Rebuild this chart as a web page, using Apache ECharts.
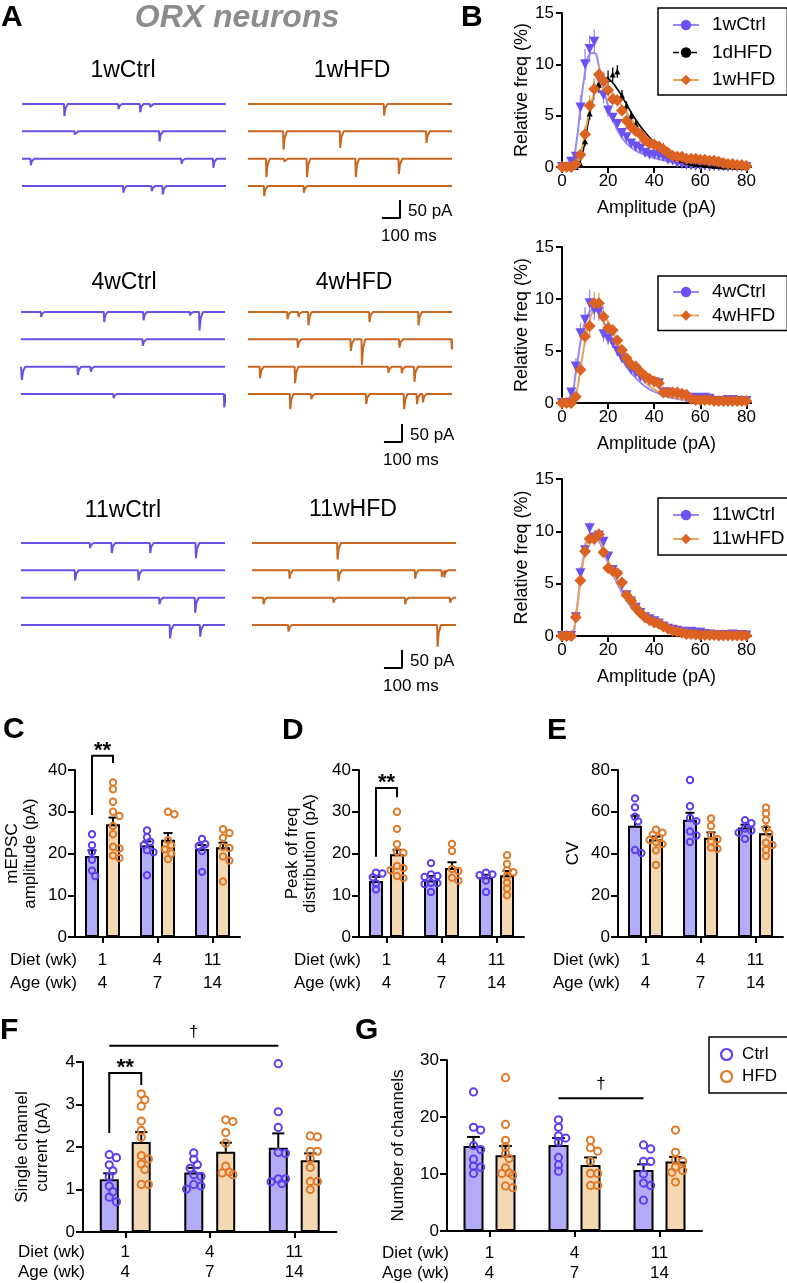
<!DOCTYPE html>
<html><head><meta charset="utf-8">
<script src="https://cdn.jsdelivr.net/npm/echarts@6/dist/echarts.min.js"></script>
<style>html,body{margin:0;padding:0;background:#fff}#c{width:787px;height:1283px}</style>
</head><body><div id="c"></div>
<script>
// ================= DATA =================
// Panel A: mEPSC events per sweep, [time (ms), amplitude (pA)]
const ev1wCtrl = [[[234,34],[534,14],[654,23],[709,8]], [[292,8],[761,28]], [[48,18],[883,14],[1059,25]], [[561,18],[718,14],[779,23]]];
const ev1wHFD  = [[[753,32]], [[196,51],[510,46],[988,32]], [[101,51],[200,8],[326,51],[596,51],[835,42]], [[89,28],[309,18]]];
const ev4wCtrl = [[[111,14],[460,28],[678,23],[936,9],[988,51]], [[674,18]], [[4,37],[314,23],[386,14]], [[512,11],[1125,37]]];
const ev4wHFD  = [[[218,20],[279,14],[334,37],[672,28],[944,37]], [[275,23],[569,32],[630,71],[838,23],[1128,28]], [[66,32],[260,46],[777,17],[851,18],[921,42]], [[233,42],[350,14],[654,28],[864,42],[935,28],[968,23]]];
const ev11wCtrl= [[[382,14],[502,28],[715,28],[968,42]], [[299,28],[650,28]], [[766,18],[964,42]], [[825,37],[992,32]]];
const ev11wHFD = [[[473,46]], [[207,23],[478,30],[903,23],[1051,18],[1064,20]], [[63,18],[451,14],[848,18],[1097,14]], [[201,18],[1027,60]]];
const SCALE_PA = 50, SCALE_MS = 100, TRACE_MS = 1130;

// Panel B: amplitude histograms (bins in pA, relative frequency %)
const ampBins = [0,2,4,6,8,10,12,14,16,18,20,22,24,26,28,30,32,34,36,38,40,42,44,46,48,50,52,54,56,58,60,62,64,66,68,70,72,74,76,78,80];
const ampTicks = [0,20,40,60,80];
const ctrl1w = [0,0,0.5,1.0,5.8,10.0,11.5,12.2,8.6,7.0,5.5,4.8,4.2,3.3,2.9,2.3,2.0,1.8,1.4,1.2,1.2,1.1,1.0,0.7,0.6,0.4,0.3,0.2,0.15,0.1,0.1,0.1,0.05,0.1,0.05,0.05,0,0.05,0,0,0];
const dHFD1  = [0,0,0,0,0.3,2.5,5.2,7.6,8.0,8.3,8.6,9.0,9.3,7.0,6.0,5.0,4.2,3.2,2.8,2.5,2.3,2.1,2.0,1.4,1.2,0.9,0.7,0.5,0.4,0.3,0.3,0.2,0.2,0.1,0.1,0.05,0.05,0.05,0,0,0];
const hfd1w  = [0,0,0,0.3,1.2,3.2,6.0,7.6,9.0,8.4,7.5,6.6,6.5,5.5,4.5,3.9,3.5,3.2,2.6,2.3,2.2,2.0,1.7,1.4,1.1,1.0,1.0,0.8,0.8,0.8,0.7,0.7,0.6,0.6,0.5,0.4,0.3,0.3,0.2,0.2,0.1];
const ctrl4w = [0,0,1.0,3.5,6.7,8.0,9.6,9.0,8.8,6.6,6.2,5.8,5.0,4.3,3.8,3.2,2.9,2.5,2.3,2.1,2.0,1.9,1.0,1.0,0.9,0.8,0.7,0.5,0.4,0.5,0.4,0.5,0.4,0.2,0.2,0.2,0.3,0.3,0.2,0.2,0.2];
const hfd4w  = [0,0,0,0.6,3.2,6.4,7.4,9.6,9.6,8.3,7.2,7.0,6.0,5.1,4.3,3.7,3.5,3.0,2.6,2.3,2.1,1.9,1.0,1.0,1.0,1.0,0.9,0.8,0.4,0.3,0.3,0.3,0.3,0.2,0.2,0.2,0.2,0.2,0.2,0.2,0.2];
const ctrl11w= [0,0,0,1.8,6.0,8.2,10.3,9.4,9.6,9.0,7.6,6.3,5.8,4.8,3.9,3.3,2.7,2.2,1.8,1.6,1.4,1.2,0.9,0.7,0.6,0.5,0.4,0.35,0.4,0.3,0.3,0.2,0.15,0.1,0.1,0.1,0.1,0.15,0.1,0.1,0.05];
const hfd11w = [0,0,0,1.8,5.3,8.1,9.3,9.3,9.7,8.0,6.5,6.2,6.0,5.1,3.9,3.4,2.7,2.2,1.8,1.5,1.3,1.2,0.9,0.7,0.5,0.4,0.3,0.2,0.2,0.15,0.1,0.1,0.1,0.1,0.05,0.05,0.05,0.05,0.05,0.05,0.05];
const err1wCtrl = [0,0,0.3,0.5,1.2,1.5,1.3,1.2,1.0,0.8,0.6,0.5,0.5,0.4,0.4,0.3,0.3,0.3,0.2,0.2,0.2,0.2,0.2,0.15,0.15,0.1,0.1,0.1,0.1,0.1,0.1,0.1,0.05,0.05,0.05,0.05,0,0.05,0,0,0];
const err1dHFD  = [0,0,0,0,0.2,0.5,0.6,0.7,0.8,0.9,0.8,0.7,0.6,0.5,0.4,0.4,0.3,0.3,0.3,0.2,0.3,0.3,0.3,0.2,0.2,0.2,0.1,0.1,0.1,0.1,0.1,0.1,0.1,0.05,0.05,0.05,0.05,0.05,0,0,0];
const err1wHFD  = [0,0,0,0.2,0.4,0.8,1.0,1.1,1.0,0.9,0.7,0.6,0.6,0.5,0.5,0.4,0.4,0.3,0.3,0.3,0.3,0.2,0.2,0.2,0.2,0.2,0.2,0.15,0.15,0.15,0.15,0.1,0.1,0.1,0.1,0.1,0.1,0.1,0.05,0.05,0.05];
const err4wCtrl = [0,0,0.4,0.8,1.0,1.2,1.3,1.0,0.9,0.7,0.6,0.5,0.5,0.4,0.4,0.4,0.3,0.3,0.3,0.3,0.3,0.3,0.2,0.2,0.2,0.2,0.15,0.15,0.1,0.1,0.1,0.1,0.1,0.1,0.1,0.1,0.1,0.1,0.1,0.1,0.1];
const err4wHFD  = [0,0,0,0.3,0.6,0.9,1.0,1.1,1.0,0.8,0.7,0.6,0.5,0.5,0.4,0.4,0.4,0.3,0.3,0.3,0.3,0.3,0.2,0.2,0.2,0.2,0.2,0.15,0.1,0.1,0.1,0.1,0.1,0.1,0.1,0.1,0.1,0.1,0.1,0.1,0.1];
const err11wCtrl= [0,0,0,0.4,0.6,0.7,0.6,0.5,0.5,0.5,0.4,0.4,0.4,0.3,0.3,0.3,0.3,0.2,0.2,0.2,0.2,0.2,0.15,0.15,0.1,0.1,0.1,0.1,0.1,0.1,0.1,0.1,0.05,0.05,0.05,0.05,0.05,0.05,0.05,0.05,0.05];
const err11wHFD = [0,0,0,0.3,0.6,0.6,0.6,0.7,0.6,0.5,0.4,0.4,0.4,0.3,0.3,0.3,0.3,0.2,0.2,0.2,0.2,0.2,0.15,0.15,0.1,0.1,0.1,0.1,0.1,0.1,0.05,0.05,0.05,0.05,0.05,0.05,0.05,0.05,0.05,0.05,0.05];
// fitted curves, read at these amplitudes
const fitAmp     = [0,4,6,8,10,12,14,16,18,20,24,28,32,36,40,45,50,55,60,70,80];
const fitCtrl1w  = [0,0.3,2,5.8,9.2,11,11.1,9.8,7.8,6.0,3.6,2.3,1.6,1.2,0.9,0.6,0.4,0.25,0.15,0.05,0.02];
const fitD1      = [0,0,0.05,0.6,2.6,5.1,7.1,8.3,8.7,8.6,7.6,6.1,4.6,3.4,2.4,1.5,0.9,0.5,0.3,0.08,0.02];
const fitHFD1w   = [0,0,0.3,1.3,3.3,5.6,7.2,7.9,8.0,7.7,6.6,5.3,4.1,3.1,2.3,1.6,1.1,0.75,0.5,0.22,0.1];
const fitCtrl4w  = [0,0.8,3,5.8,7.8,8.8,9.0,8.6,7.8,6.9,5.0,3.5,2.4,1.6,1.1,0.65,0.4,0.22,0.12,0.04,0.01];
const fitHFD4w   = [0,0,0.8,3.2,6,8,8.9,9.0,8.6,7.8,6,4.3,3,2,1.3,0.8,0.45,0.25,0.14,0.04,0.01];
const fitCtrl11w = [0,0.2,2,5.5,8.3,9.6,9.7,9.1,8.1,7.0,5.0,3.4,2.3,1.5,1.0,0.55,0.3,0.17,0.09,0.03,0.01];
const fitHFD11w  = [0,0.1,1.8,5.2,8.1,9.5,9.8,9.3,8.3,7.2,5.2,3.6,2.4,1.6,1.0,0.55,0.3,0.16,0.08,0.02,0];

// Panels C-G: groups
const dietWeeks = ['1','4','11'];
const ageWeeks  = ['4','7','14'];
// C: mEPSC amplitude (pA)
const ampCtrlMean = [19.4,21.9,21.1], ampCtrlSem = [1.4,1.0,0.9];
const ampHfdMean  = [27.0,23.3,21.5], ampHfdSem  = [1.6,1.6,1.1];
const ampCtrlDots = [[24.6,22.0,20.4,18.5,15.9,14.6],[25.5,23.9,22.8,22.0,20.8,20.3,14.8],[23.5,22.2,21.8,20.6,15.6]];
const ampHfdDots  = [[37.0,35.4,32.4,30.0,29.0,26.6,24.6,21.6,21.2,19.5,18.9],[30.0,29.4,23.2,22.0,21.0,20.0,18.7],[25.8,24.9,23.8,21.6,21.3,19.3,18.3,13.3]];
// D: peak of frequency distribution (pA)
const peakCtrlMean = [13.4,13.6,14.3], peakCtrlSem = [1.0,1.0,0.6];
const peakHfdMean  = [19.8,16.5,14.8], peakHfdSem  = [1.1,1.4,1.0];
const peakCtrlDots = [[15.4,15.2,14.3,12.8,11.4],[17.7,15.0,14.6,14.4,13.0,12.9,12.7,10.8],[15.4,15.0,14.8,13.5,10.8]];
const peakHfdDots  = [[30.0,25.9,22.2,20.4,20.2,17.0,16.5,16.0,14.6,14.1],[22.3,20.6,16.3,15.8,14.2,13.5],[19.6,17.5,16.0,15.5,14.5,13.0,11.6,10.0]];
// E: CV
const cvCtrlMean = [53.3,56.2,52.5], cvCtrlSem = [4.8,3.3,1.3];
const cvHfdMean  = [46.8,47.5,49.7], cvHfdSem  = [1.3,2.6,3.0];
const cvCtrlDots = [[66.4,62.1,57.6,55.4,41.7,40.2],[75.2,62.6,57.0,55.5,50.6,48.6,45.5],[56.0,54.5,52.0,51.0,50.0,47.0]];
const cvHfdDots  = [[51.4,50.0,49.0,47.5,46.5,45.5,44.5,41.5,34.5],[56.8,53.2,48.8,46.8,45.7,42.8,42.3],[62.0,59.2,56.0,52.0,49.7,45.2,44.1,41.7,38.8]];
// F: single channel current (pA)
const sccCtrlMean = [1.24,1.40,1.98], sccCtrlSem = [0.14,0.11,0.34];
const sccHfdMean  = [2.12,1.89,1.69], sccHfdSem  = [0.23,0.21,0.16];
const sccCtrlDots = [[1.82,1.75,1.58,1.44,1.30,1.08,0.95,0.82,0.71],[1.86,1.71,1.58,1.50,1.35,1.31,1.12,1.08,1.01],[3.96,2.83,2.46,1.87,1.85,1.25,1.25,1.18,1.14]];
const sccHfdDots  = [[3.25,3.11,2.96,2.61,2.39,2.23,1.80,1.72,1.60,1.47,1.12,1.12],[2.64,2.60,2.34,2.09,1.55,1.41,1.39,1.35],[2.26,2.24,1.90,1.90,1.73,1.52,1.19,1.19,1.00]];
// G: number of channels
const nchCtrlMean = [14.9,15.1,10.7], nchCtrlSem = [1.6,1.2,1.0];
const nchHfdMean  = [13.3,11.6,12.2], nchHfdSem  = [1.6,1.3,0.8];
const nchCtrlDots = [[24.4,18.2,17.7,15.0,14.3,12.6,11.4,11.2,10.1],[19.5,18.2,16.7,16.3,15.6,12.9,11.6,10.5],[15.1,14.4,12.2,12.2,10.0,8.4,8.0,5.4]];
const nchHfdDots  = [[26.9,18.7,15.9,14.8,13.6,12.7,11.1,10.2,10.1,9.8,7.9,7.6],[15.9,14.6,14.0,12.2,10.1,10.1,8.0,8.0],[17.7,13.8,12.5,12.2,11.2,10.6,10.3,8.6]];
// significance annotations: [group, side(-1 Ctrl / +1 HFD)]
const sigC = [{kind:'bracket', a:[0,-1], b:[0,1], top:43.4, footA:29.2, footB:41.7, text:'**'}];
const sigD = [{kind:'bracket', a:[0,-1], b:[0,1], top:35.7, footA:19.2, footB:33.5, text:'**'}];
const sigE = [];
const sigF = [{kind:'bracket', a:[0,-1], b:[0,1], top:3.74, footA:2.33, footB:3.46, text:'**'},
              {kind:'bar', a:[0,-1], b:[2,-1], top:4.38, text:'\u2020'}];
const sigG = [{kind:'bar', a:[1,-1], b:[2,-1], top:23.3, text:'\u2020'}];

// ================= STYLE / LAYOUT =================
const FONT = '"Liberation Sans", Arial, Helvetica, sans-serif';
const TRACE_BLUE = '#6553E8', TRACE_ORANGE = '#C9661F';
const MK_BLUE = '#6A52F2', MK_ORANGE = '#DC6221';
const FIT_BLUE = '#978AF4', FIT_ORANGE = '#EAA35A';
const BAR_BLUE = '#B3ACF8', BAR_ORANGE = '#F4D8B2';
const DOT_BLUE = '#5B40F3', DOT_ORANGE = '#E07A29';

const grids = [], xAxes = [], yAxes = [], series = [], graphics = [], legends = [];
function addGrid(g, x, y) { grids.push(g); const i = grids.length - 1; x.gridIndex = i; y.gridIndex = i; xAxes.push(x); yAxes.push(y); return i; }
function txt(text, x, y, size, extra) {
  graphics.push({type:'text', x, y, silent:true, z:50,
    style:Object.assign({text, fontSize:size, fontFamily:FONT, fill:'#000', align:'left', verticalAlign:'middle'}, extra || {})});
}
const axisLineStyle = {show:true, onZero:false, lineStyle:{color:'#000', width:2}};

// ---------- Panel A traces ----------
const PA_PX = 18 / SCALE_PA, ROW_GAP = 76, Y_TOP = 10, Y_BOT = -390, TRACE_W = 204;
const traceBlocks = [
  {ev:ev1wCtrl, left:22, row0:104, color:TRACE_BLUE},
  {ev:ev1wHFD, left:248, row0:104, color:TRACE_ORANGE, bar:{tEnd:842, yb:-317}},
  {ev:ev4wCtrl, left:21, row0:312, color:TRACE_BLUE},
  {ev:ev4wHFD, left:248, row0:312, color:TRACE_ORANGE, bar:{tEnd:853, yb:-361}},
  {ev:ev11wCtrl, left:21, row0:543, color:TRACE_BLUE},
  {ev:ev11wHFD, left:252, row0:543, color:TRACE_ORANGE, bar:{tEnd:831, yb:-347}}
];
function buildTrace(events, base) {
  const pts = [[0, base]];
  events.slice().sort((a, b) => a[0] - b[0]).forEach(([t, a]) => {
    pts.push([Math.max(0, t - 1.5), base], [t + 1, base - a], [t + 7, base - a * 0.35], [Math.min(TRACE_MS, t + 20), base]);
  });
  pts.push([TRACE_MS, base]);
  return pts;
}
traceBlocks.forEach(b => {
  const gi = addGrid({left:b.left, top:b.row0 - Y_TOP * PA_PX, width:TRACE_W, height:(Y_TOP - Y_BOT) * PA_PX},
    {type:'value', min:0, max:TRACE_MS, show:false},
    {type:'value', min:Y_BOT, max:Y_TOP, show:false});
  b.ev.forEach((rowEv, r) => {
    series.push({type:'line', xAxisIndex:gi, yAxisIndex:gi, showSymbol:false, silent:true, clip:true,
      data:buildTrace(rowEv, -r * ROW_GAP), lineStyle:{color:b.color, width:2}});
  });
  if (b.bar) {
    const t = b.bar.tEnd, y = b.bar.yb;
    series.push({type:'line', xAxisIndex:gi, yAxisIndex:gi, showSymbol:false, silent:true, clip:false,
      data:[[t - SCALE_MS, y], [t, y], [t, y + SCALE_PA]], lineStyle:{color:'#000', width:2}});
    const bx = b.left + t / TRACE_MS * TRACE_W, by = b.row0 - y * PA_PX;
    txt(SCALE_PA + ' pA', bx + 8, by - 7, 17);
    txt(SCALE_MS + ' ms', bx - 19, by + 18, 17);
  }
});
// trace titles
[['1wCtrl',123,71],['1wHFD',352,71],['4wCtrl',124,283],['4wHFD',354,283],['11wCtrl',123,511],['11wHFD',353,510]]
  .forEach(([t, x, y]) => txt(t, x, y, 23, {align:'center'}));

// ---------- Panel B histograms ----------
const kindStyle = {
  ctrl:{marker:'triangle', rot:180, size:10, color:MK_BLUE, fit:FIT_BLUE, fitW:2, legendSym:'circle', err:FIT_BLUE},
  d1:{marker:'triangle', rot:0, size:6, color:'#000', fit:'#000', fitW:1.6, legendSym:'circle', err:'#000'},
  hfd:{marker:'diamond', rot:0, size:12, color:MK_ORANGE, fit:FIT_ORANGE, fitW:2, legendSym:'diamond', err:FIT_ORANGE}
};
const bPlots = [
  {top:13, height:154, legendTop:8, legendGap:7.5, pad:[7,12,5,14],
   groups:[['1wCtrl',ctrl1w,err1wCtrl,fitCtrl1w,'ctrl'],['1dHFD',dHFD1,err1dHFD,fitD1,'d1'],['1wHFD',hfd1w,err1wHFD,fitHFD1w,'hfd']]},
  {top:247, height:156, legendTop:276, legendGap:3.5, pad:[6,12,5,14],
   groups:[['4wCtrl',ctrl4w,err4wCtrl,fitCtrl4w,'ctrl'],['4wHFD',hfd4w,err4wHFD,fitHFD4w,'hfd']]},
  {top:479, height:157, legendTop:498, legendGap:4, pad:[7,12,6,14],
   groups:[['11wCtrl',ctrl11w,err11wCtrl,fitCtrl11w,'ctrl'],['11wHFD',hfd11w,err11wHFD,fitHFD11w,'hfd']]}
];
bPlots.forEach(p => {
  const gi = addGrid({left:562, top:p.top, width:189, height:p.height},
    {type:'value', min:0, max:82, interval:20, axisLine:axisLineStyle,
     axisTick:{show:true, length:6, lineStyle:{color:'#000', width:2}, customValues:ampTicks},
     axisLabel:{fontSize:17, color:'#000', margin:6, fontFamily:FONT, customValues:ampTicks,
       formatter:v => ampTicks.indexOf(v) >= 0 ? String(v) : ''},
     splitLine:{show:false}, name:'Amplitude (pA)', nameLocation:'middle', nameGap:32,
     nameTextStyle:{fontSize:18, color:'#000', fontFamily:FONT}},
    {type:'value', min:0, max:15, interval:5, axisLine:axisLineStyle,
     axisTick:{show:true, length:6, lineStyle:{color:'#000', width:2}},
     axisLabel:{fontSize:17, color:'#000', margin:8, fontFamily:FONT},
     splitLine:{show:false}, name:'Relative freq (%)', nameLocation:'middle', nameGap:29,
     nameTextStyle:{fontSize:18, color:'#000', fontFamily:FONT}});
  // fitted curves (first, named for legend)
  p.groups.forEach(([name, y, e, fit, kind]) => {
    const s = kindStyle[kind];
    series.push({type:'line', name, xAxisIndex:gi, yAxisIndex:gi, smooth:true, showSymbol:false, silent:true,
      symbol:s.legendSym, z:2, data:fitAmp.map((x, i) => [x, fit[i]]),
      itemStyle:{color:s.color}, lineStyle:{color:s.fit, width:s.fitW}});
  });
  p.groups.forEach(([name, y, e, fit, kind]) => {
    const s = kindStyle[kind];
    series.push({type:'custom', xAxisIndex:gi, yAxisIndex:gi, silent:true, z:3,
      data:ampBins.map((x, i) => [x, y[i], e[i]]),
      renderItem:(params, api) => {
        const x = api.value(0), v = api.value(1), sd = api.value(2);
        if (!(sd > 0)) return;
        const p1 = api.coord([x, v - sd]), p2 = api.coord([x, v + sd]);
        return {type:'line', shape:{x1:p1[0], y1:p1[1], x2:p2[0], y2:p2[1]}, style:{stroke:s.err, lineWidth:1.3}};
      }});
  });
  p.groups.forEach(([name, y, e, fit, kind]) => {
    const s = kindStyle[kind];
    series.push({type:'scatter', xAxisIndex:gi, yAxisIndex:gi, silent:true, z:4,
      symbol:s.marker, symbolRotate:s.rot, symbolSize:s.size,
      data:ampBins.map((x, i) => [x, y[i]]), itemStyle:{color:s.color, opacity:1}});
  });
  legends.push({orient:'vertical', left:658, top:p.legendTop, itemWidth:26, itemHeight:13, itemGap:p.legendGap,
    padding:p.pad, borderColor:'#000', borderWidth:1.5, selectedMode:false, backgroundColor:'#fff',
    textStyle:{fontSize:19, color:'#000', fontFamily:FONT, lineHeight:20, padding:[0,0,0,8]},
    data:p.groups.map(([name, , , , kind]) => kind === 'd1' ? {name, lineStyle:{type:'dashed', width:1.5}} : {name})});
});

// ---------- Panels C-G bar charts ----------
const barPanels = [
  {grid:{left:75, top:770, width:165, height:167}, max:40, interval:10, yName:'mEPSC\namplitude (pA)', nameGap:36, nameLH:18,
   ctrl:[ampCtrlMean, ampCtrlSem, ampCtrlDots], hfd:[ampHfdMean, ampHfdSem, ampHfdDots], barW:14, barGap:'50%', off:10.5,
   r:3.2, spread:7, lblMargin:11.5, lblLH:23, names:['C-Ctrl','C-HFD'], sig:sigC},
  {grid:{left:359, top:770, width:165, height:167}, max:40, interval:10, yName:'Peak of freq\ndistribution (pA)', nameGap:40, nameLH:18,
   ctrl:[peakCtrlMean, peakCtrlSem, peakCtrlDots], hfd:[peakHfdMean, peakHfdSem, peakHfdDots], barW:14, barGap:'50%', off:10.5,
   r:3.2, spread:7, lblMargin:11.5, lblLH:23, names:['D-Ctrl','D-HFD'], sig:sigD},
  {grid:{left:618, top:770, width:165, height:167}, max:80, interval:20, yName:'CV', nameGap:36, nameLH:18,
   ctrl:[cvCtrlMean, cvCtrlSem, cvCtrlDots], hfd:[cvHfdMean, cvHfdSem, cvHfdDots], barW:14, barGap:'50%', off:10.5,
   r:3.2, spread:7, lblMargin:11.5, lblLH:23, names:['E-Ctrl','E-HFD'], sig:sigE},
  {grid:{left:83, top:1062, width:253.5, height:170}, max:4, interval:1, yName:'Single channel\ncurrent (pA)', nameGap:31, nameLH:20,
   ctrl:[sccCtrlMean, sccCtrlSem, sccCtrlDots], hfd:[sccHfdMean, sccHfdSem, sccHfdDots], barW:19, barGap:'68%', off:16,
   r:3.6, spread:10, lblMargin:10, lblLH:20, names:['F-Ctrl','F-HFD'], sig:sigF},
  {grid:{left:447, top:1060, width:255, height:171}, max:30, interval:10, yName:'Number of channels', nameGap:40, nameLH:18,
   ctrl:[nchCtrlMean, nchCtrlSem, nchCtrlDots], hfd:[nchHfdMean, nchHfdSem, nchHfdDots], barW:20, barGap:'60%', off:16,
   r:3.6, spread:10, lblMargin:12, lblLH:20, names:['Ctrl','HFD'], sig:sigG}
];

function dotsRenderer(values, side, P, color) {
  return (params, api) => {
    const cat = api.value(0);
    const cx = api.coord([cat, 0])[0] + side * P.off;
    const pts = values[cat].map(v => api.coord([cat, v])[1]).sort((a, b) => a - b);
    const placed = [], children = [];
    const step = P.r * 1.0, minD = P.r * 1.7;
    pts.forEach(y => {
      const cands = [0];
      for (let k = 1; k <= 6; k++) cands.push(k * step, -k * step);
      let best = 0, bestScore = Infinity;
      for (const dx of cands) {
        if (Math.abs(dx) > P.spread) continue;
        let ov = 0;
        placed.forEach(q => { const d = Math.hypot(q[0] - dx, q[1] - y); if (d < minD) ov += minD - d; });
        if (ov === 0) { best = dx; bestScore = 0; break; }
        if (ov < bestScore) { bestScore = ov; best = dx; }
      }
      placed.push([best, y]);
      children.push({type:'circle', shape:{cx:cx + best, cy:y, r:P.r}, style:{fill:'rgba(0,0,0,0)', stroke:color, lineWidth:2}});
    });
    return {type:'group', children};
  };
}

barPanels.forEach(P => {
  const g = P.grid;
  const gi = addGrid(g,
    {type:'category', data:dietWeeks, axisLine:axisLineStyle,
     axisTick:{show:true, alignWithLabel:true, interval:0, length:6, lineStyle:{color:'#000', width:2}},
     axisLabel:{interval:0, fontSize:17, color:'#000', fontFamily:FONT, margin:P.lblMargin, lineHeight:P.lblLH,
       formatter:(v, i) => dietWeeks[i] + '\n' + ageWeeks[i]}},
    {type:'value', min:0, max:P.max, interval:P.interval, axisLine:axisLineStyle,
     axisTick:{show:true, length:7, lineStyle:{color:'#000', width:2}},
     axisLabel:{fontSize:17, color:'#000', margin:8, fontFamily:FONT}, splitLine:{show:false},
     name:P.yName, nameLocation:'middle', nameRotate:90, nameGap:P.nameGap,
     nameTextStyle:{fontSize:17, color:'#000', fontFamily:FONT, lineHeight:P.nameLH, align:'center'}});
  [[P.ctrl, BAR_BLUE, -1, P.names[0]], [P.hfd, BAR_ORANGE, 1, P.names[1]]].forEach(([d, fill, side, nm]) => {
    series.push({type:'bar', name:nm, xAxisIndex:gi, yAxisIndex:gi, data:d[0], barWidth:P.barW, barGap:P.barGap, silent:true, z:2,
      itemStyle:{color:fill, borderColor:'#000', borderWidth:2}});
  });
  [[P.ctrl, -1], [P.hfd, 1]].forEach(([d, side]) => {
    series.push({type:'custom', xAxisIndex:gi, yAxisIndex:gi, silent:true, z:3,
      data:d[0].map((m, i) => [i, m, d[1][i]]),
      renderItem:(params, api) => {
        const c = api.value(0), m = api.value(1), s = api.value(2);
        const p0 = api.coord([c, m]), p1 = api.coord([c, m + s]);
        const x = p0[0] + side * P.off, cap = P.barW * 0.32;
        return {type:'group', children:[
          {type:'line', shape:{x1:x, y1:p0[1], x2:x, y2:p1[1]}, style:{stroke:'#000', lineWidth:2}},
          {type:'line', shape:{x1:x - cap, y1:p1[1], x2:x + cap, y2:p1[1]}, style:{stroke:'#000', lineWidth:2}}]};
      }});
  });
  [[P.ctrl, -1, DOT_BLUE], [P.hfd, 1, DOT_ORANGE]].forEach(([d, side, col]) => {
    series.push({type:'custom', xAxisIndex:gi, yAxisIndex:gi, silent:true, z:4,
      data:d[2].map((vals, i) => [i, Math.max.apply(null, vals)]),
      renderItem:dotsRenderer(d[2], side, P, col)});
  });
  if (P.sig.length) {
    series.push({type:'custom', xAxisIndex:gi, yAxisIndex:gi, silent:true, z:5, clip:false,
      data:P.sig.map((s, i) => [s.a[0], s.top]),
      renderItem:(params, api) => {
        const s = P.sig[params.dataIndex];
        const xa = api.coord([s.a[0], 0])[0] + s.a[1] * P.off;
        const xb = api.coord([s.b[0], 0])[0] + s.b[1] * P.off;
        const yt = api.coord([0, s.top])[1];
        if (s.kind === 'bracket') {
          const ya = api.coord([0, s.footA])[1], yb = api.coord([0, s.footB])[1];
          return {type:'group', children:[
            {type:'polyline', shape:{points:[[xa, ya], [xa, yt], [xb, yt], [xb, yb]]}, style:{stroke:'#000', lineWidth:2, fill:null}},
            {type:'text', x:(xa + xb) / 2, y:yt - 5, style:{text:s.text, fontSize:22, fontWeight:'bold', fontFamily:FONT, fill:'#000', align:'center', verticalAlign:'middle'}}]};
        }
        return {type:'group', children:[
          {type:'line', shape:{x1:xa, y1:yt, x2:xb, y2:yt}, style:{stroke:'#000', lineWidth:2}},
          {type:'text', x:(xa + xb) / 2, y:yt - 14, style:{text:s.text, fontSize:17, fontFamily:FONT, fill:'#000', align:'center', verticalAlign:'middle'}}]};
      }});
  }
  // Diet / Age row titles
  const bottom = g.top + g.height;
  const y1 = bottom + P.lblMargin + P.lblLH / 2;
  txt('Diet (wk)', g.left + 2, y1, 17, {align:'right'});
  txt('Age (wk)', g.left + 2, y1 + P.lblLH, 17, {align:'right'});
});

legends.push({orient:'vertical', left:709, top:1037, itemWidth:11, itemHeight:11, itemGap:5,
  padding:[9,14,8,11], borderColor:'#000', borderWidth:1.5, selectedMode:false,
  textStyle:{fontSize:17, color:'#000', fontFamily:FONT, lineHeight:17, padding:[0,0,0,5]},
  data:[{name:'Ctrl', icon:'circle', itemStyle:{color:'#fff', borderColor:DOT_BLUE, borderWidth:2.2}},
        {name:'HFD', icon:'circle', itemStyle:{color:'#fff', borderColor:DOT_ORANGE, borderWidth:2.2}}]});

// ---------- panel letters & title ----------
[['A',1,18],['B',461,18],['C',3,730],['D',282,731],['E',547,731],['F',0,1031],['G',355,1031]]
  .forEach(([t, x, y]) => txt(t, x, y, 30, {fontWeight:'bold'}));
txt('ORX neurons', 237, 18, 32, {align:'center', fontWeight:'bold', fontStyle:'italic', fill:'#8c8c8c'});

const chart = echarts.init(document.getElementById('c'), null, {renderer:'canvas', width:787, height:1283});
chart.setOption({animation:false, backgroundColor:'#fff', textStyle:{fontFamily:FONT},
  grid:grids, xAxis:xAxes, yAxis:yAxes, series, legend:legends, graphic:graphics, tooltip:{show:false}});
</script></body></html>
